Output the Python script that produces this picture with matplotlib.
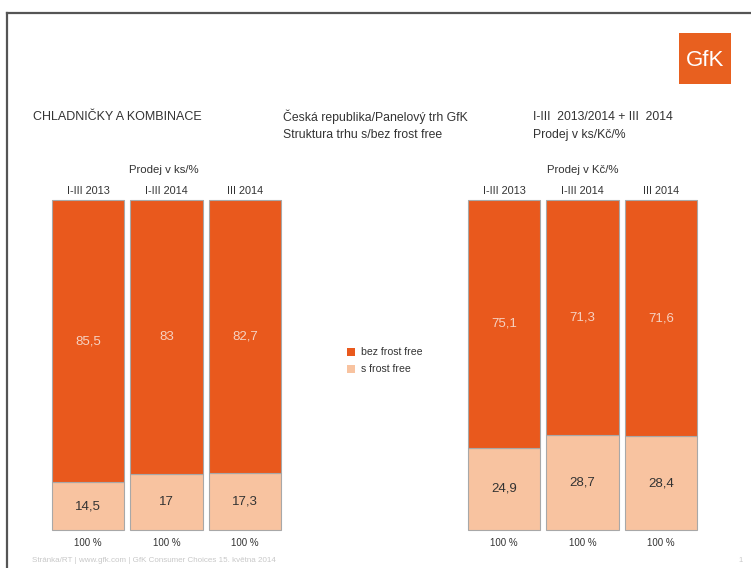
import matplotlib
matplotlib.use("Agg")
import matplotlib.pyplot as plt
from matplotlib.patches import Rectangle
from matplotlib.lines import Line2D

plt.rcParams['font.family'] = ['Liberation Sans', 'DejaVu Sans']

categories = ["I-III 2013", "I-III 2014", "III 2014"]
ks_bez = [85.5, 83.0, 82.7]
ks_s = [14.5, 17.0, 17.3]
kc_bez = [75.1, 71.3, 71.6]
kc_s = [24.9, 28.7, 28.4]
series_names = ["bez frost free", "s frost free"]
totals = ["100 %", "100 %", "100 %"]

ORANGE = "#E9591D"
LIGHT = "#F8C3A0"
EDGE = "#A8A8A8"

W, H = 751, 568
fig = plt.figure(figsize=(W / 100, H / 100), dpi=100)
fig.patch.set_facecolor("white")


def fx(x):
    return x / W


def fy(y):
    return 1 - y / H


def txt(x, y, s, **kw):
    kw.setdefault("fontsize", 7)
    kw.setdefault("color", "#333333")
    kw.setdefault("va", "center")
    fig.text(fx(x), fy(y), s, **kw)


# frame lines
fig.add_artist(Line2D([fx(7), fx(751)], [fy(13), fy(13)], color="#555555", lw=1.6))
fig.add_artist(Line2D([fx(7), fx(7)], [fy(13), fy(568)], color="#555555", lw=1.6))

# logo
fig.add_artist(Rectangle((fx(679), fy(84)), fx(52), 51 / H, facecolor="#E8601F",
                         edgecolor="none", transform=fig.transFigure))
txt(705, 61, "GfK", fontsize=16, color="white", ha="center")

# header texts
txt(33, 117, "CHLADNIČKY A KOMBINACE", fontsize=9)
txt(283, 117, "Česká republika/Panelový trh GfK", fontsize=8.8)
txt(283, 135, "Struktura trhu s/bez frost free", fontsize=8.8)
txt(533, 117, "I-III  2013/2014 + III  2014", fontsize=8.8)
txt(533, 135, "Prodej v ks/Kč/%", fontsize=8.8)


def panel(left_px, bez, s, title, title_x):
    ax = fig.add_axes([fx(left_px), fy(530), 229 / W, 330 / H])
    xs = list(range(len(categories)))
    b1 = ax.bar(xs, s, width=0.92, color=LIGHT, edgecolor=EDGE, linewidth=0.8)
    b2 = ax.bar(xs, bez, bottom=s, width=0.92, color=ORANGE, edgecolor=EDGE, linewidth=0.8)
    for p in list(b1) + list(b2):
        p.set_clip_on(False)
    ax.set_xlim(-0.46, len(categories) - 1 + 0.46)
    ax.set_ylim(0, 100)
    ax.axis("off")
    for i in xs:
        ax.text(i, s[i] + bez[i] / 2, f"{bez[i]:g}".replace(".", ","), ha="center",
                va="center", fontsize=9.5, color="#F6D2C2")
        ax.text(i, s[i] / 2, f"{s[i]:g}".replace(".", ","), ha="center",
                va="center", fontsize=9.5, color="#333333")
        ax.text(i, 101.2, categories[i], ha="center", va="bottom", fontsize=7.8,
                color="#333333")
        ax.text(i, -2.5, totals[i], ha="center", va="top", fontsize=7,
                color="#333333")
    txt(title_x, 170, title, fontsize=8.2, ha="center")


panel(52, ks_bez, ks_s, "Prodej v ks/%", 164)
panel(468, kc_bez, kc_s, "Prodej v Kč/%", 583)

# legend
fig.add_artist(Rectangle((fx(347), fy(356)), 8 / W, 8 / H, facecolor=ORANGE,
                         edgecolor="none", transform=fig.transFigure))
fig.add_artist(Rectangle((fx(347), fy(373)), 8 / W, 8 / H, facecolor=LIGHT,
                         edgecolor="none", transform=fig.transFigure))
txt(361, 352, series_names[0], fontsize=7.6)
txt(361, 369, series_names[1], fontsize=7.6)

# footer
txt(32, 561, "Stránka/RT | www.gfk.com | GfK Consumer Choices 15. května 2014",
    fontsize=5.8, color="#C8C8C8")
txt(738, 561, "1", fontsize=5.5, color="#C8C8C8")

fig.savefig("out.png", dpi=100, facecolor="white")
